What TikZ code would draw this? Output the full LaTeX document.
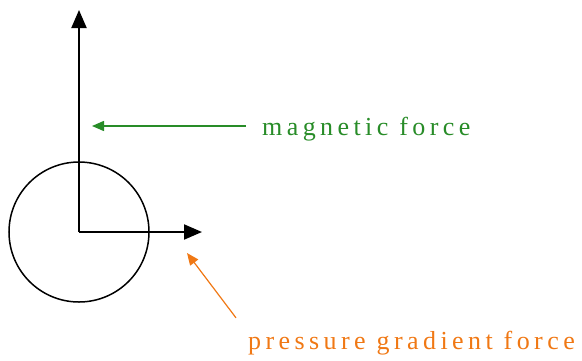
\documentclass[tikz,border=0pt]{standalone}
\usepackage{fontspec}
\setmainfont{Liberation Serif}[LetterSpace=17]
\usetikzlibrary{arrows.meta}
\definecolor{magcol}{RGB}{40,140,40}
\definecolor{prescol}{RGB}{240,120,20}
\begin{document}
\begin{tikzpicture}[x=1pt, y=-1pt, >={Triangle[length=18pt,width=15pt]}]
    \useasboundingbox (0,0) rectangle (582,360);
    % particle
    \coordinate (o) at (79,232);
    \node[draw, circle, minimum size=140pt, line width=1.5pt] (ball) at (o) {};
    % force vectors
    \coordinate (up) at (79,10);
    \coordinate (right) at (202,234);
    \draw[->, line width=2pt] (o) -- (up);
    \draw[->, line width=2pt] (o) -- (o -| right);
    % labels
    \node[anchor=west, inner sep=0pt, font=\fontsize{26}{28}\selectfont, text=magcol] (mag) at (262,129) {magnetic force};
    \node[anchor=west, inner sep=0pt, font=\fontsize{26}{28}\selectfont, text=prescol] (pgf) at (248,343) {pressure gradient force};
    \coordinate (magtip) at (92,126);
    \coordinate (pgftip) at (187,253);
    \draw[-{Triangle[length=12pt,width=10pt]}, magcol, line width=1.5pt] (mag.west) ++(-16,-3) -- (magtip);
    \draw[-{Triangle[length=12pt,width=10pt]}, prescol, line width=1.2pt] (pgf.north west) ++(-12,-13) -- (pgftip);
\end{tikzpicture}
\end{document}
